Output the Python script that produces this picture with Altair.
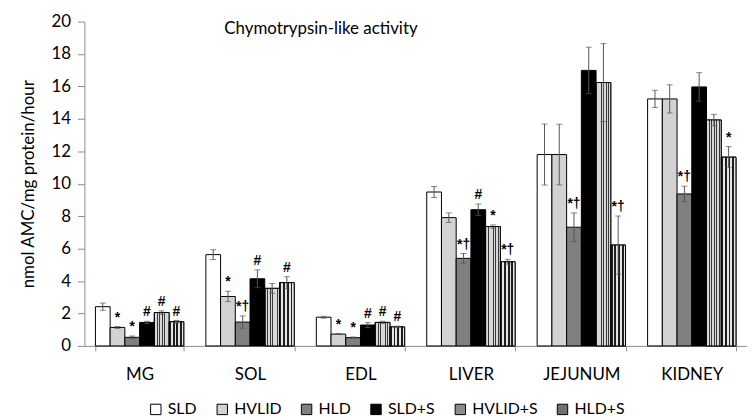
import altair as alt
import pandas as pd

categories = ["MG", "SOL", "EDL", "LIVER", "JEJUNUM", "KIDNEY"]
groups = ["SLD", "HVLID", "HLD", "SLD+S", "HVLID+S", "HLD+S"]

values_sld = [2.42, 5.63, 1.77, 9.49, 11.80, 15.23]
values_hvlid = [1.14, 3.05, 0.73, 7.91, 11.80, 15.23]
values_hld = [0.53, 1.47, 0.51, 5.40, 7.32, 9.37]
values_slds = [1.45, 4.14, 1.29, 8.40, 16.99, 15.97]
values_hvlids = [2.06, 3.55, 1.45, 7.36, 16.24, 13.93]
values_hlds = [1.49, 3.90, 1.17, 5.19, 6.22, 11.64]

err_sld = [0.22, 0.30, 0.06, 0.34, 1.88, 0.53]
err_hvlid = [0.06, 0.32, 0.03, 0.29, 1.87, 0.87]
err_hld = [0.08, 0.38, 0.04, 0.30, 0.88, 0.48]
err_slds = [0.07, 0.55, 0.15, 0.35, 1.43, 0.88]
err_hvlids = [0.10, 0.30, 0.07, 0.10, 2.40, 0.35]
err_hlds = [0.08, 0.37, 0.05, 0.15, 1.79, 0.65]

note_sld = ["", "", "", "", "", ""]
note_hvlid = ["*", "*", "*", "", "", ""]
note_hld = ["*", "*†", "*", "*†", "*†", "*†"]
note_slds = ["#", "#", "#", "#", "", ""]
note_hvlids = ["#", "", "#", "*", "", ""]
note_hlds = ["#", "#", "#", "*†", "*†", "*"]

fills = ["#ffffff", "#d2d2d2", "#808080", "#000000", "#8c8c8c", "#707070"]

all_vals = [values_sld, values_hvlid, values_hld, values_slds, values_hvlids, values_hlds]
all_errs = [err_sld, err_hvlid, err_hld, err_slds, err_hvlids, err_hlds]
all_notes = [note_sld, note_hvlid, note_hld, note_slds, note_hvlids, note_hlds]

rows = []
for g, vals, errs, notes in zip(groups, all_vals, all_errs, all_notes):
    for c, v, e, n in zip(categories, vals, errs, notes):
        rows.append({"cat": c, "grp": g, "val": v, "lo": v - e, "hi": v + e, "note": n})
df = pd.DataFrame(rows)


def stripes(dark, light, n, dark_frac):
    stops = []
    for i in range(n):
        a = i / n
        b = (i + dark_frac) / n
        c = (i + 1) / n
        stops += [
            alt.GradientStop(offset=a, color=dark),
            alt.GradientStop(offset=b, color=dark),
            alt.GradientStop(offset=b, color=light),
            alt.GradientStop(offset=c, color=light),
        ]
    return alt.LinearGradient(gradient="linear", x1=0, y1=0, x2=1, y2=0, stops=stops)


FONT = "Lato"

x = alt.X(
    "cat:N",
    sort=categories,
    scale=alt.Scale(paddingInner=0.2, paddingOuter=0.1),
    axis=alt.Axis(
        title=None, tickBand="extent", labelAngle=0, labelFontSize=17, labelFont=FONT,
        labelColor="black", labelPadding=16, tickSize=5, domainColor="#8c8c8c",
        tickColor="#8c8c8c",
    ),
)
xo = alt.XOffset("grp:N", sort=groups, scale=alt.Scale(paddingInner=0, paddingOuter=0))

y_scale = alt.Scale(domain=[0, 20], nice=False)
y_axis = alt.Axis(
    title="nmol AMC/mg protein/hour", values=list(range(0, 21, 2)), grid=False,
    labelOverlap=False, tickSize=7, labelPadding=7, labelFontSize=17, labelFont=FONT,
    labelColor="black", domainColor="#8c8c8c", tickColor="#8c8c8c", titleFont=FONT,
    titleFontSize=17, titleFontWeight="normal", titleColor="black", titlePadding=14,
)


def Y(field):
    return alt.Y(field, type="quantitative", scale=y_scale, axis=y_axis)


base = alt.Chart(df)

bars = base.mark_bar(stroke="black", strokeWidth=1).encode(
    x=x,
    xOffset=xo,
    y=Y("val"),
    color=alt.Color(
        "grp:N",
        sort=groups,
        scale=alt.Scale(domain=groups, range=fills),
        legend=alt.Legend(
            title=None, orient="none", legendX=64, legendY=383, direction="horizontal",
            symbolType="square", symbolSize=110, symbolStrokeColor="black",
            symbolStrokeWidth=1, symbolOpacity=1, labelFontSize=16, labelFont=FONT,
            labelColor="black", columnPadding=17, labelOffset=4, padding=0,
        ),
    ),
)

grid_bars = base.transform_filter(alt.datum.grp == "HVLID+S").mark_bar(
    fill=stripes("#3a3a3a", "#d8d8d8", 6, 0.35), stroke="black", strokeWidth=1
).encode(x=x, xOffset=xo, y=Y("val"))

check_bars = base.transform_filter(alt.datum.grp == "HLD+S").mark_bar(
    fill=stripes("#1e1e1e", "#e6e6e6", 4, 0.5), stroke="black", strokeWidth=1
).encode(x=x, xOffset=xo, y=Y("val"))

rules = base.mark_rule(color="#555555", strokeWidth=1).encode(
    x=x, xOffset=xo, y=Y("lo"), y2="hi:Q"
)
cap_hi = base.mark_tick(color="#555555", thickness=1, size=6).encode(
    x=x, xOffset=xo, y=Y("hi")
)
cap_lo = base.mark_tick(color="#555555", thickness=1, size=6).encode(
    x=x, xOffset=xo, y=Y("lo")
)

notes_layer = base.mark_text(
    baseline="bottom", dy=-2, fontWeight="bold", fontSize=14, font="Liberation Sans",
    color="black",
).encode(x=x, xOffset=xo, y=Y("hi"), text="note:N")

chart = (
    alt.layer(bars, grid_bars, check_bars, rules, cap_hi, cap_lo, notes_layer)
    .properties(
        width=668,
        height=327,
        padding={"left": 77, "top": 12, "right": 0, "bottom": 72},
        autosize=alt.AutoSizeParams(type="none"),
        title=alt.TitleParams(
            "Chymotrypsin-like activity", anchor="start", frame="group", dx=141, dy=30,
            fontSize=17, font=FONT, fontWeight="normal", color="black", baseline="top",
        ),
    )
    .configure_view(stroke=None)
)

chart.save("out.html", embed_options={"renderer": "svg", "actions": False})
